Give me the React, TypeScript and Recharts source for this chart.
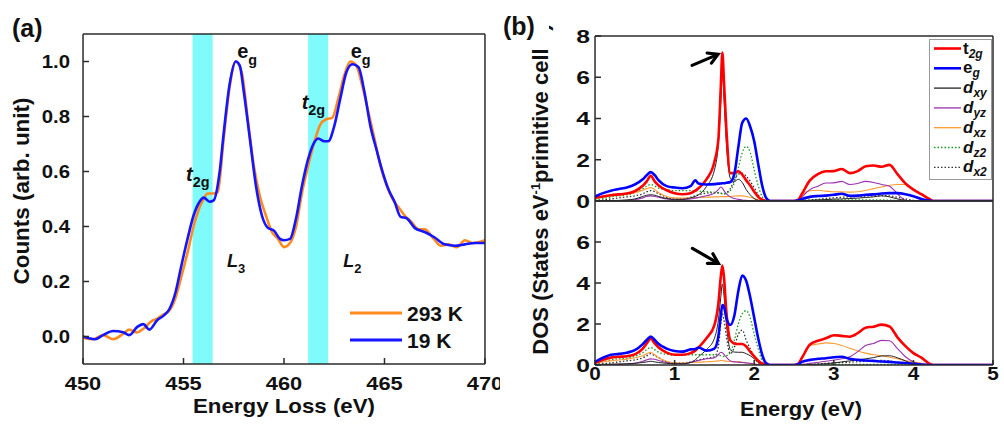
import React from "react";
import { LineChart, Line, XAxis, YAxis, ReferenceArea, ReferenceDot, Legend } from "recharts";

const FONT = "'Liberation Sans', Arial, Helvetica, sans-serif";
const FRAME = "#2b2b2b";
const THIN = 0.01; // axes need a positive size to be drawn

// ---- panel (a): EELS spectra ----
const energy293 = [450, 450.5, 451, 451.5, 452, 452.3, 452.7, 453, 453.4, 453.7, 454, 454.3, 454.6, 454.9, 455.2, 455.5, 455.8, 456, 456.2, 456.5, 456.7, 457, 457.3, 457.6, 457.9, 458.2, 458.5, 458.8, 459.1, 459.4, 459.7, 460, 460.3, 460.6, 460.9, 461.2, 461.5, 461.8, 462.1, 462.4, 462.7, 463, 463.3, 463.6, 463.9, 464.2, 464.5, 464.8, 465.1, 465.4, 465.7, 466, 466.3, 466.7, 467, 467.4, 467.8, 468.2, 468.6, 469, 469.4, 470];
const counts293 = [-0.005, -0.01, 0.005, -0.01, 0.01, 0.025, 0.015, 0.028, 0.055, 0.065, 0.08, 0.095, 0.14, 0.22, 0.305, 0.4, 0.47, 0.5, 0.52, 0.52, 0.525, 0.72, 0.91, 1.0, 0.96, 0.79, 0.62, 0.51, 0.44, 0.38, 0.355, 0.325, 0.34, 0.4, 0.525, 0.62, 0.705, 0.77, 0.79, 0.795, 0.865, 0.95, 1.0, 0.985, 0.91, 0.815, 0.72, 0.62, 0.55, 0.5, 0.47, 0.44, 0.42, 0.39, 0.39, 0.36, 0.33, 0.335, 0.325, 0.35, 0.34, 0.35];
const energy19 = [450, 450.6, 451, 451.5, 452, 452.3, 452.7, 453, 453.3, 453.7, 454, 454.3, 454.6, 454.9, 455.2, 455.5, 455.8, 456, 456.3, 456.5, 456.8, 457, 457.3, 457.6, 457.8, 458, 458.3, 458.6, 458.9, 459.2, 459.5, 459.8, 460, 460.3, 460.6, 460.9, 461.2, 461.5, 461.7, 462, 462.2, 462.5, 462.8, 463.1, 463.4, 463.7, 464, 464.3, 464.6, 464.9, 465.2, 465.5, 465.8, 466.1, 466.5, 467, 467.5, 468, 468.5, 469, 469.5, 470];
const counts19 = [0, -0.01, 0.005, 0.02, 0.015, 0.005, 0.035, 0.045, 0.025, 0.06, 0.075, 0.1, 0.16, 0.26, 0.355, 0.44, 0.49, 0.505, 0.49, 0.495, 0.6, 0.74, 0.92, 1.0, 0.985, 0.89, 0.72, 0.55, 0.44, 0.395, 0.385, 0.355, 0.35, 0.355, 0.43, 0.55, 0.645, 0.705, 0.72, 0.71, 0.71, 0.765, 0.865, 0.96, 0.99, 0.98, 0.89, 0.765, 0.68, 0.6, 0.535, 0.49, 0.435, 0.43, 0.395, 0.38, 0.36, 0.335, 0.33, 0.335, 0.34, 0.34];

const bandsA = [[455.45, 456.45], [461.2, 462.2]];
const xMajorA = [450, 455, 460, 465, 470];
const xMinorA = [451, 452, 453, 454, 456, 457, 458, 459, 461, 462, 463, 464, 466, 467, 468, 469];
const yMajorA = [0, 0.2, 0.4, 0.6, 0.8, 1.0];
const yMinorA = [0.1, 0.3, 0.5, 0.7, 0.9];

const labelsA = [
  { x: 457.67, y: 1.012, main: "e", sub: "g", italic: false, size: 20 },
  { x: 463.32, y: 1.012, main: "e", sub: "g", italic: false, size: 20 },
  { x: 455.13, y: 0.567, main: "t", sub: "2g", italic: true, size: 20 },
  { x: 460.88, y: 0.827, main: "t", sub: "2g", italic: true, size: 20 },
  { x: 457.16, y: 0.252, main: "L", sub: "3", italic: true, size: 18 },
  { x: 462.95, y: 0.252, main: "L", sub: "2", italic: true, size: 18 },
];

const rows293 = energy293.map((e, i) => ({ e, c: counts293[i] }));
const rows19 = energy19.map((e, i) => ({ e, c: counts19[i] }));

// ---- panel (b): projected DOS ----
const energyB = [0, 0.1, 0.2, 0.3, 0.4, 0.5, 0.6, 0.65, 0.7, 0.75, 0.8, 0.9, 1.0, 1.1, 1.2, 1.26, 1.3, 1.4, 1.5, 1.55, 1.58, 1.6, 1.62, 1.65, 1.7, 1.75, 1.8, 1.85, 1.9, 1.95, 2.0, 2.05, 2.1, 2.15, 2.2, 2.5, 2.55, 2.6, 2.7, 2.8, 2.9, 3.0, 3.1, 3.2, 3.3, 3.4, 3.5, 3.6, 3.7, 3.8, 3.9, 4.0, 4.1, 4.2, 4.25, 5.0];

const topT2g = [0.16, 0.22, 0.28, 0.32, 0.36, 0.48, 0.74, 0.95, 1.22, 0.95, 0.75, 0.52, 0.38, 0.33, 0.38, 0.5, 0.62, 1.05, 1.9, 3.0, 5.5, 7.2, 5.8, 3.5, 1.35, 1.35, 1.44, 1.28, 1.0, 0.75, 0.45, 0.2, 0.06, 0, 0, 0, 0.05, 0.35, 1.0, 1.3, 1.44, 1.45, 1.55, 1.35, 1.45, 1.68, 1.72, 1.66, 1.75, 1.3, 0.85, 0.55, 0.33, 0.1, 0, 0];
const topEg = [0.22, 0.38, 0.5, 0.58, 0.66, 0.8, 1.05, 1.25, 1.4, 1.25, 1.0, 0.72, 0.65, 0.62, 0.72, 1.0, 0.85, 0.8, 0.82, 0.84, 0.85, 0.86, 0.86, 0.88, 0.92, 1.3, 2.6, 3.8, 4.0, 3.6, 2.9, 1.8, 0.75, 0.15, 0, 0, 0.02, 0.1, 0.2, 0.24, 0.26, 0.3, 0.35, 0.25, 0.26, 0.3, 0.32, 0.36, 0.38, 0.38, 0.33, 0.23, 0.1, 0.02, 0, 0];
const topDxy = [0, 0.01, 0.02, 0.03, 0.05, 0.1, 0.22, 0.28, 0.3, 0.28, 0.22, 0.12, 0.08, 0.08, 0.15, 0.22, 0.3, 0.7, 1.5, 2.8, 4.8, 6.3, 5.0, 2.8, 1.1, 0.95, 1.05, 0.9, 0.55, 0.3, 0.12, 0.03, 0, 0, 0, 0, 0, 0.01, 0.03, 0.05, 0.07, 0.09, 0.1, 0.12, 0.14, 0.17, 0.2, 0.25, 0.2, 0.1, 0.03, 0, 0, 0, 0, 0];
const topDyz = [0, 0, 0.01, 0.02, 0.03, 0.06, 0.15, 0.22, 0.25, 0.22, 0.18, 0.1, 0.06, 0.07, 0.1, 0.14, 0.17, 0.25, 0.38, 0.55, 0.68, 0.62, 0.5, 0.35, 0.2, 0.12, 0.08, 0.05, 0.03, 0.01, 0, 0, 0, 0, 0, 0, 0.02, 0.2, 0.55, 0.72, 0.87, 0.88, 0.95, 0.8, 0.85, 0.95, 0.9, 0.8, 0.72, 0.35, 0.03, 0, 0, 0, 0, 0];
const topDxz = [0.12, 0.18, 0.24, 0.28, 0.33, 0.4, 0.52, 0.6, 0.65, 0.55, 0.4, 0.22, 0.15, 0.14, 0.15, 0.16, 0.17, 0.18, 0.2, 0.2, 0.21, 0.21, 0.21, 0.21, 0.22, 0.24, 0.25, 0.25, 0.22, 0.18, 0.12, 0.06, 0.02, 0, 0, 0, 0.05, 0.3, 0.5, 0.52, 0.48, 0.45, 0.44, 0.43, 0.45, 0.52, 0.6, 0.68, 0.76, 0.8, 0.8, 0.55, 0.3, 0.05, 0, 0];
const topDz2 = [0.05, 0.12, 0.2, 0.25, 0.3, 0.4, 0.58, 0.72, 0.8, 0.72, 0.62, 0.55, 0.5, 0.5, 0.5, 0.5, 0.48, 0.45, 0.42, 0.4, 0.38, 0.35, 0.35, 0.38, 0.5, 0.9, 1.6, 2.35, 2.65, 2.35, 1.5, 0.75, 0.2, 0.02, 0, 0, 0, 0.02, 0.03, 0.04, 0.04, 0.05, 0.05, 0.05, 0.05, 0.05, 0.05, 0.05, 0.04, 0.03, 0.02, 0.01, 0, 0, 0, 0];
const topDx2 = [0.02, 0.05, 0.1, 0.15, 0.2, 0.25, 0.35, 0.45, 0.5, 0.45, 0.35, 0.18, 0.1, 0.1, 0.18, 0.25, 0.3, 0.38, 0.4, 0.4, 0.38, 0.35, 0.35, 0.4, 0.6, 1.0, 1.3, 1.35, 1.2, 0.95, 0.65, 0.3, 0.05, 0, 0, 0, 0, 0.02, 0.05, 0.08, 0.12, 0.15, 0.18, 0.2, 0.22, 0.24, 0.25, 0.26, 0.25, 0.18, 0.1, 0.03, 0, 0, 0, 0];

const botT2g = [0.1, 0.25, 0.36, 0.4, 0.43, 0.52, 0.8, 1.05, 1.28, 1.05, 0.85, 0.6, 0.5, 0.5, 0.58, 0.7, 0.85, 1.3, 1.95, 3.0, 4.3, 4.85, 4.3, 2.6, 1.2, 1.05, 1.02, 1.02, 0.9, 0.65, 0.42, 0.21, 0.06, 0.01, 0, 0, 0.05, 0.35, 1.0, 1.18, 1.3, 1.45, 1.42, 1.38, 1.55, 1.82, 1.87, 1.97, 1.88, 1.35, 0.92, 0.58, 0.36, 0.07, 0, 0];
const botEg = [0.15, 0.35, 0.5, 0.54, 0.6, 0.72, 1.02, 1.22, 1.39, 1.22, 1.02, 0.8, 0.68, 0.65, 0.76, 0.78, 0.85, 0.7, 0.8, 1.4, 2.4, 2.93, 2.85, 2.3, 1.95, 2.4, 3.6, 4.36, 4.1, 3.3, 2.3, 1.3, 0.5, 0.08, 0, 0, 0.02, 0.15, 0.25, 0.3, 0.33, 0.38, 0.4, 0.3, 0.25, 0.22, 0.2, 0.17, 0.15, 0.12, 0.1, 0.06, 0.02, 0, 0, 0];
const botDxy = [0.02, 0.03, 0.04, 0.05, 0.06, 0.08, 0.12, 0.15, 0.18, 0.15, 0.12, 0.08, 0.06, 0.06, 0.12, 0.25, 0.4, 0.75, 1.3, 2.2, 3.3, 3.95, 3.4, 2.0, 0.75, 0.63, 0.62, 0.62, 0.55, 0.45, 0.3, 0.12, 0.03, 0, 0, 0, 0, 0.01, 0.02, 0.04, 0.06, 0.1, 0.15, 0.2, 0.25, 0.3, 0.36, 0.44, 0.45, 0.35, 0.2, 0.06, 0.01, 0, 0, 0];
const botDyz = [0, 0.01, 0.02, 0.03, 0.05, 0.08, 0.18, 0.25, 0.3, 0.28, 0.22, 0.12, 0.06, 0.06, 0.12, 0.18, 0.22, 0.3, 0.35, 0.5, 0.62, 0.6, 0.52, 0.38, 0.2, 0.15, 0.14, 0.12, 0.1, 0.08, 0.05, 0.02, 0, 0, 0, 0, 0, 0.03, 0.08, 0.13, 0.18, 0.24, 0.3, 0.4, 0.65, 0.95, 1.05, 1.2, 1.18, 0.8, 0.4, 0.15, 0.03, 0, 0, 0];
const botDxz = [0.1, 0.15, 0.2, 0.24, 0.28, 0.35, 0.45, 0.55, 0.62, 0.5, 0.35, 0.18, 0.1, 0.1, 0.12, 0.13, 0.14, 0.16, 0.18, 0.2, 0.22, 0.22, 0.2, 0.18, 0.17, 0.16, 0.15, 0.13, 0.1, 0.07, 0.05, 0.02, 0, 0, 0, 0, 0.05, 0.35, 0.95, 1.02, 1.08, 1.05, 0.95, 0.82, 0.68, 0.58, 0.5, 0.45, 0.38, 0.3, 0.22, 0.15, 0.08, 0.02, 0, 0];
const botDz2 = [0.05, 0.15, 0.25, 0.3, 0.33, 0.42, 0.6, 0.75, 0.85, 0.75, 0.62, 0.52, 0.47, 0.47, 0.5, 0.5, 0.5, 0.5, 0.5, 0.48, 0.45, 0.42, 0.42, 0.45, 0.6, 1.2, 2.0, 2.5, 2.65, 2.3, 1.5, 0.8, 0.2, 0.02, 0, 0, 0, 0.02, 0.03, 0.03, 0.03, 0.03, 0.03, 0.03, 0.03, 0.03, 0.03, 0.03, 0.03, 0.03, 0.02, 0.01, 0, 0, 0, 0];
const botDx2 = [0.02, 0.06, 0.1, 0.15, 0.2, 0.25, 0.35, 0.45, 0.55, 0.45, 0.35, 0.15, 0.1, 0.1, 0.15, 0.2, 0.25, 0.32, 0.4, 0.9, 2.0, 2.5, 2.2, 1.4, 0.55, 0.85, 1.5, 1.7, 1.2, 0.8, 0.4, 0.12, 0.02, 0, 0, 0, 0, 0.01, 0.03, 0.05, 0.08, 0.1, 0.12, 0.14, 0.16, 0.18, 0.2, 0.22, 0.2, 0.12, 0.05, 0.01, 0, 0, 0, 0];

const xMajorB = [0, 1, 2, 3, 4, 5];
const xMinorB = [0.5, 1.5, 2.5, 3.5, 4.5];
const yMinorB = [1, 3, 5, 7];

// legend order; drawn in reverse so the thick lines end up on top
const seriesB = [
  { key: "t2g", main: "t", sub: "2g", color: "#ff0000", width: 2.6, dash: undefined },
  { key: "eg", main: "e", sub: "g", color: "#0000ff", width: 2.6, dash: undefined },
  { key: "dxy", main: "d", sub: "xy", color: "#222222", width: 1, dash: undefined },
  { key: "dyz", main: "d", sub: "yz", color: "#9b30b0", width: 1.1, dash: undefined },
  { key: "dxz", main: "d", sub: "xz", color: "#ff9a30", width: 1.1, dash: undefined },
  { key: "dz2", main: "d", sub: "z2", color: "#1a9a1a", width: 1.3, dash: "1.5 2" },
  { key: "dx2", main: "d", sub: "x2", color: "#333333", width: 1.3, dash: "1.5 2" },
];

const rowsTop = energyB.map((e, i) => ({
  e, t2g: topT2g[i], eg: topEg[i], dxy: topDxy[i], dyz: topDyz[i], dxz: topDxz[i], dz2: topDz2[i], dx2: topDx2[i],
}));
const rowsBot = energyB.map((e, i) => ({
  e, t2g: botT2g[i], eg: botEg[i], dxy: botDxy[i], dyz: botDyz[i], dxz: botDxz[i], dz2: botDz2[i], dx2: botDx2[i],
}));

const frame = { stroke: FRAME, strokeWidth: 1.5 };

// tick labels in the figure are a little wider than plain Arial Bold
function WideTick(props: any) {
  const { x, y, payload, textAnchor, side, fmt, sx = 1.18, size = 18.5 } = props;
  const label = fmt ? fmt(payload.value) : String(payload.value);
  return (
    <text transform={`translate(${x},${y}) scale(${sx},1)`} x={0} y={0} dy={side === "bottom" ? "0.72em" : "0.36em"}
      textAnchor={textAnchor} fontFamily={FONT} fontWeight={700} fontSize={size} fill="#111">
      {label}
    </text>
  );
}

function AnnoText(props: any) {
  const { cx, cy, main, sub, italic, size } = props;
  return (
    <text x={cx} y={cy} fontFamily={FONT} fontWeight={700} fontSize={size} fill="#111">
      <tspan fontStyle={italic ? "italic" : "normal"}>{main}</tspan>
      <tspan fontSize={size * 0.72} dy={size * 0.32}>{sub}</tspan>
    </text>
  );
}

function Arrow(props: any) {
  const { cx, cy, dx, dy } = props;
  const len = Math.hypot(dx, dy);
  const ux = dx / len;
  const uy = dy / len;
  const wing = 11;
  const a = Math.PI / 6;
  const w1x = cx - wing * (ux * Math.cos(a) - uy * Math.sin(a));
  const w1y = cy - wing * (uy * Math.cos(a) + ux * Math.sin(a));
  const w2x = cx - wing * (ux * Math.cos(a) + uy * Math.sin(a));
  const w2y = cy - wing * (uy * Math.cos(a) - ux * Math.sin(a));
  return (
    <g stroke="#000" strokeWidth={3.2} fill="none" strokeLinecap="round">
      <line x1={cx - dx} y1={cy - dy} x2={cx - ux * 2} y2={cy - uy * 2} />
      <polyline points={`${w1x},${w1y} ${cx},${cy} ${w2x},${w2y}`} />
    </g>
  );
}

function LegendA() {
  const items = [
    { name: "293 K", color: "#ff8a1e" },
    { name: "19 K", color: "#1515ff" },
  ];
  return (
    <svg width={150} height={60}>
      {items.map((it, i) => (
        <g key={it.name}>
          <line x1={10} x2={62} y1={12 + i * 27} y2={12 + i * 27} stroke={it.color} strokeWidth={3} />
          <text x={67} y={20 + i * 27} fontFamily={FONT} fontWeight={700} fontSize={21} fill="#111">{it.name}</text>
        </g>
      ))}
    </svg>
  );
}

function LegendB() {
  return (
    <svg width={64} height={142}>
      <rect x={0.5} y={0.5} width={62} height={140} fill="#fff" stroke="#999" />
      {seriesB.map((s, i) => {
        const y = 9.5 + i * 19.8;
        return (
          <g key={s.key}>
            <line x1={5} x2={32} y1={y} y2={y} stroke={s.color} strokeWidth={s.width < 2 ? 1.3 : 2.6} strokeDasharray={s.dash} />
            <text x={34} y={y + 5} fontFamily={FONT} fontWeight={700} fontSize={17} fill="#111">
              <tspan fontStyle={s.main === "d" ? "italic" : "normal"}>{s.main}</tspan>
              <tspan fontSize={12} fontStyle="italic" dy={4}>{s.sub}</tspan>
            </text>
          </g>
        );
      })}
    </svg>
  );
}

function PanelA() {
  return (
    <LineChart width={500} height={425} margin={{ top: 34, right: 15, bottom: 61, left: 83 }}>
      {bandsA.map(([a, b]) => (
        <ReferenceArea key={a} x1={a} x2={b} y1={-0.1} y2={1.1} fill="#80fbfb" fillOpacity={1} stroke="none" />
      ))}
      <XAxis type="number" dataKey="e" domain={[450, 470]} allowDataOverflow ticks={xMajorA} interval={0} height={THIN}
        tickSize={-6} tickMargin={19} tick={(p: any) => <WideTick {...p} side="bottom" />} tickLine={frame} axisLine={frame} />
      <XAxis xAxisId="xmin" type="number" dataKey="e" domain={[450, 470]} allowDataOverflow ticks={xMinorA} interval={0} height={THIN}
        tickSize={-3} tick={false} tickLine={frame} axisLine={false} />
      <XAxis xAxisId="xtop" orientation="top" type="number" dataKey="e" domain={[450, 470]} allowDataOverflow ticks={xMajorA} interval={0} height={THIN}
        tickSize={-6} tick={false} tickLine={frame} axisLine={frame} />
      <XAxis xAxisId="xtopmin" orientation="top" type="number" dataKey="e" domain={[450, 470]} allowDataOverflow ticks={xMinorA} interval={0} height={THIN}
        tickSize={-3} tick={false} tickLine={frame} axisLine={false} />
      <YAxis type="number" domain={[-0.1, 1.1]} allowDataOverflow ticks={yMajorA} interval={0} width={THIN}
        tickSize={-6} tickMargin={19} tick={(p: any) => <WideTick {...p} side="left" sx={1.1} fmt={(v: number) => v.toFixed(1)} />}
        tickLine={frame} axisLine={frame} />
      <YAxis yAxisId="ymin" type="number" domain={[-0.1, 1.1]} allowDataOverflow ticks={yMinorA} interval={0} width={THIN}
        tickSize={-3} tick={false} tickLine={frame} axisLine={false} />
      <YAxis yAxisId="yright" orientation="right" type="number" domain={[-0.1, 1.1]} allowDataOverflow ticks={yMajorA} interval={0} width={THIN}
        tickSize={-6} tick={false} tickLine={frame} axisLine={frame} />
      <YAxis yAxisId="yrightmin" orientation="right" type="number" domain={[-0.1, 1.1]} allowDataOverflow ticks={yMinorA} interval={0} width={THIN}
        tickSize={-3} tick={false} tickLine={frame} axisLine={false} />
      <Line data={rows293} dataKey="c" name="293 K" type="monotone" stroke="#ff8a1e" strokeWidth={2.6} dot={false} activeDot={false} isAnimationActive={false} />
      <Line data={rows19} dataKey="c" name="19 K" type="monotone" stroke="#1515ff" strokeWidth={2.6} dot={false} activeDot={false} isAnimationActive={false} />
      {labelsA.map((l, i) => (
        <ReferenceDot key={i} x={l.x} y={l.y} r={0} ifOverflow="visible" shape={(p: any) => <AnnoText {...p} {...l} />} />
      ))}
      <Legend layout="horizontal" verticalAlign="middle" align="center"
        wrapperStyle={{ left: 340, top: 301, width: 150, height: 60 }} content={() => <LegendA />} />
    </LineChart>
  );
}

function DosPanel(props: any) {
  const { rows, margin, yTicks, xLabels, arrowTip, arrowDir, legend } = props;
  const drawOrder = [...seriesB.slice(2).reverse(), seriesB[0], seriesB[1]];
  return (
    <LineChart width={504} height={425} margin={margin} data={rows}>
      <XAxis type="number" dataKey="e" domain={[0, 5]} allowDataOverflow ticks={xLabels ? xMajorB : [1, 2, 3, 4]} interval={0} height={THIN}
        tickSize={-5} tickMargin={7} tick={xLabels ? (p: any) => <WideTick {...p} side="bottom" sx={1.12} /> : false}
        tickLine={frame} axisLine={frame} />
      {xLabels && (
        <XAxis xAxisId="xmin" type="number" dataKey="e" domain={[0, 5]} allowDataOverflow ticks={xMinorB} interval={0} height={THIN}
          tickSize={-3} tick={false} tickLine={frame} axisLine={false} />
      )}
      <XAxis xAxisId="xtop" orientation="top" type="number" dataKey="e" domain={[0, 5]} allowDataOverflow ticks={[0, 5]} height={THIN}
        tick={false} tickLine={false} axisLine={frame} />
      <YAxis type="number" domain={[0, 8]} allowDataOverflow ticks={yTicks} interval={0} width={THIN}
        tickSize={-6} tickMargin={11} tick={(p: any) => <WideTick {...p} side="left" sx={1.3} size={19} />} tickLine={frame} axisLine={frame} />
      <YAxis yAxisId="ymin" type="number" domain={[0, 8]} allowDataOverflow ticks={yMinorB} interval={0} width={THIN}
        tickSize={-3} tick={false} tickLine={frame} axisLine={false} />
      <YAxis yAxisId="yright" orientation="right" type="number" domain={[0, 8]} allowDataOverflow ticks={[0, 8]} width={THIN}
        tick={false} tickLine={false} axisLine={frame} />
      {drawOrder.map((s) => (
        <Line key={s.key} dataKey={s.key} name={s.key} type="monotone" stroke={s.color} strokeWidth={s.width}
          strokeDasharray={s.dash} dot={false} activeDot={false} isAnimationActive={false} />
      ))}
      <ReferenceDot x={arrowTip[0]} y={arrowTip[1]} r={0} ifOverflow="visible"
        shape={(p: any) => <Arrow {...p} dx={arrowDir[0]} dy={arrowDir[1]} />} />
      {legend && (
        <Legend layout="horizontal" verticalAlign="middle" align="center"
          wrapperStyle={{ left: 429, top: 39, width: 64, height: 142 }} content={() => <LegendB />} />
      )}
    </LineChart>
  );
}

export default function App() {
  return (
    <div style={{ position: "absolute", left: 0, top: 0, width: 1004, height: 425, background: "#fff", overflow: "hidden" }}>
      <div style={{ position: "absolute", left: 0, top: 0 }}>
        <PanelA />
      </div>
      <div style={{ position: "absolute", left: 500, top: 0 }}>
        <DosPanel rows={rowsTop} margin={{ top: 36, right: 11, bottom: 224, left: 95 }} yTicks={[0, 2, 4, 6, 8]}
          xLabels={false} arrowTip={[1.546, 7.11]} arrowDir={[26, -11]} legend />
      </div>
      <div style={{ position: "absolute", left: 500, top: 0 }}>
        <DosPanel rows={rowsBot} margin={{ top: 201, right: 11, bottom: 60, left: 95 }} yTicks={[0, 2, 4, 6]}
          xLabels arrowTip={[1.55, 4.96]} arrowDir={[26, 15]} legend={false} />
      </div>
      <svg width={1004} height={425} style={{ position: "absolute", left: 0, top: 0, pointerEvents: "none" }}
        fontFamily={FONT} fontWeight={700} fill="#111">
        <text x={12} y={37} fontSize={25}>(a)</text>
        <text transform="translate(29,191) rotate(-90)" textAnchor="middle" fontSize={22} textLength={187} lengthAdjust="spacingAndGlyphs">
          Counts (arb. unit)
        </text>
        <text x={284} y={413} textAnchor="middle" fontSize={21} textLength={182} lengthAdjust="spacingAndGlyphs">Energy Loss (eV)</text>
        <text x={801} y={416} textAnchor="middle" fontSize={21} textLength={122} lengthAdjust="spacingAndGlyphs">Energy (eV)</text>
        <text transform="translate(548,189) rotate(-90)" textAnchor="middle" fontSize={22}>
          DOS (States eV<tspan fontSize={13} dy={-8}>-1</tspan><tspan dy={8}>primitive cell </tspan>
          <tspan fontSize={13} dy={-8}>-1</tspan><tspan dy={8}>)</tspan>
        </text>
        <rect x={500} y={6} width={49} height={36} fill="#fff" />
        <text x={503} y={35} fontSize={25}>(b)</text>
      </svg>
    </div>
  );
}
